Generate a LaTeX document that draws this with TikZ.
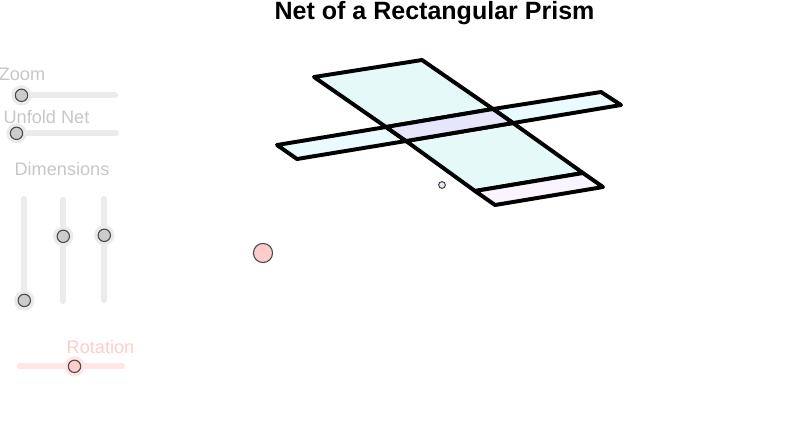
\documentclass[tikz,border=0pt]{standalone}
\usepackage{fontspec}
\setmainfont{Liberation Sans}
\definecolor{facegreen}{HTML}{E5FAF8}
\definecolor{faceblue}{HTML}{E9FBFF}
\definecolor{facemid}{HTML}{E6E6FB}
\definecolor{facepink}{HTML}{F9F4FF}
\tikzset{
	face/.style={draw=black,line width=2.8pt,line join=round},
	track/.style={line width=4.4pt,line cap=round,draw=black!8},
	redtrack/.style={line width=4.4pt,line cap=round,draw=red!10},
	knob/.style={circle,draw=black!70,line width=0.8pt,fill=black!20,minimum size=8.8pt,inner sep=0pt},
	halo/.style={circle,fill=black!8,minimum size=14.5pt,inner sep=0pt},
	redknob/.style={circle,draw=black!70,line width=0.8pt,fill=red!20,minimum size=8.8pt,inner sep=0pt},
	redhalo/.style={circle,fill=red!10,minimum size=14.5pt,inner sep=0pt},
	caption/.style={text=black!22,font=\fontsize{12.9}{14}\selectfont},
	redcaption/.style={text=red!20,font=\fontsize{12.9}{14}\selectfont}
}
\begin{document}
\begin{tikzpicture}[x=0.025cm,y=-0.025cm]
	\useasboundingbox (0,0) rectangle (800,430);

	\node (title) at (434.5,13) {\fontsize{17.8}{20}\selectfont\bfseries Net of a Rectangular Prism};

	% net
	\coordinate (topl) at (314,77);
	\coordinate (topr) at (422,60);
	\coordinate (midtl) at (386,127);
	\coordinate (midtr) at (493,109);
	\coordinate (midbl) at (406,141);
	\coordinate (midbr) at (513,123);
	\coordinate (lowl) at (475,191);
	\coordinate (lowr) at (583,173);
	\coordinate (basel) at (495,205);
	\coordinate (baser) at (603,187);
	\coordinate (leftt) at (277,145);
	\coordinate (leftb) at (297,159);
	\coordinate (rightt) at (601,92);
	\coordinate (rightb) at (621,105);

	\draw[face,fill=facegreen] (topl) -- (topr) -- (midtr) -- (midtl) -- cycle;
	\draw[face,fill=facegreen] (midbl) -- (midbr) -- (lowr) -- (lowl) -- cycle;
	\draw[face,fill=facepink] (lowl) -- (lowr) -- (baser) -- (basel) -- cycle;
	\draw[face,fill=faceblue] (leftt) -- (midtl) -- (midbl) -- (leftb) -- cycle;
	\draw[face,fill=faceblue] (midtr) -- (rightt) -- (rightb) -- (midbr) -- cycle;
	\draw[face,fill=facemid] (midtl) -- (midtr) -- (midbr) -- (midbl) -- cycle;

	\node[circle,draw=black!75,line width=0.7pt,fill=facemid,minimum size=4.8pt,inner sep=0pt] (centre) at (442,185) {};
	\node[circle,draw=black!70,line width=0.8pt,fill=red!20,minimum size=13.6pt,inner sep=0pt] (handle) at (263,253) {};

	% sliders
	\node[caption] (zoomlabel) at (22,74) {Zoom};
	\coordinate (zooma) at (21.5,95.3);
	\coordinate (zoomb) at (115,95.3);
	\draw[track] (zooma) -- (zoomb);
	\node[halo] (zoomhalo) at (zooma) {};
	\node[knob] (zoomknob) at (zooma) {};

	\node[caption] (unfoldlabel) at (46.5,117) {Unfold Net};
	\coordinate (unfolda) at (16.5,133.3);
	\coordinate (unfoldb) at (116,133.3);
	\draw[track] (unfolda) -- (unfoldb);
	\node[halo] (unfoldhalo) at (unfolda) {};
	\node[knob] (unfoldknob) at (unfolda) {};

	\node[caption] (dimlabel) at (62,169) {Dimensions};
	\coordinate (dima) at (24.3,199);
	\coordinate (dimb) at (24.3,300.4);
	\draw[track] (dima) -- (dimb);
	\node[halo] (dimahalo) at (dimb) {};
	\node[knob] (dimaknob) at (dimb) {};
	\coordinate (dimc) at (63.3,200);
	\coordinate (dimd) at (63.3,301);
	\coordinate (dimm) at (63.3,236.3);
	\draw[track] (dimc) -- (dimd);
	\node[halo] (dimbhalo) at (dimm) {};
	\node[knob] (dimbknob) at (dimm) {};
	\coordinate (dime) at (104.3,199);
	\coordinate (dimf) at (104.3,300);
	\coordinate (dimn) at (104.3,235.3);
	\draw[track] (dime) -- (dimf);
	\node[halo] (dimchalo) at (dimn) {};
	\node[knob] (dimcknob) at (dimn) {};

	\node[redcaption] (rotlabel) at (100.5,347) {Rotation};
	\coordinate (rota) at (20,366);
	\coordinate (rotb) at (122,366);
	\coordinate (rotm) at (74.5,366.3);
	\draw[redtrack] (rota) -- (rotb);
	\node[redhalo] (rothalo) at (rotm) {};
	\node[redknob] (rotknob) at (rotm) {};
\end{tikzpicture}
\end{document}
